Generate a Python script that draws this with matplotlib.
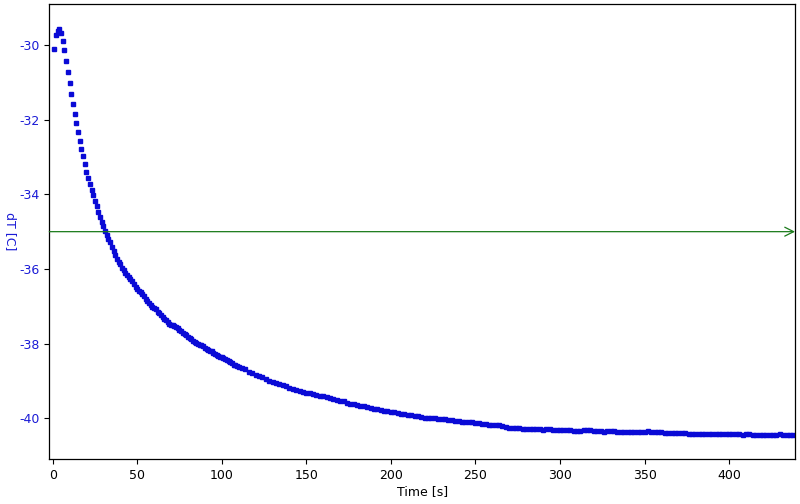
import numpy as np
import matplotlib
matplotlib.use("Agg")
import matplotlib.pyplot as plt

plt.rcParams['axes.unicode_minus'] = False
plt.rcParams['font.family'] = ['DejaVu Sans']

# sample times [s]
time_early = list(range(1, 111))          # 1 s sampling
time_late = list(range(112, 439, 2))      # 2 s sampling (dense tail)

dT_early = [
    -30.10, -29.74, -29.62, -29.57, -29.68, -29.90, -30.14, -30.43, -30.73, -31.01,
    -31.30, -31.58, -31.85, -32.10, -32.33, -32.57, -32.78, -32.98, -33.20, -33.40,
    -33.57, -33.72, -33.88, -34.02, -34.18, -34.31, -34.46, -34.60, -34.74, -34.86,
    -34.97, -35.09, -35.20, -35.29, -35.41, -35.53, -35.63, -35.73, -35.80, -35.87,
    -35.97, -36.04, -36.11, -36.17, -36.21, -36.27, -36.33, -36.41, -36.48, -36.54,
    -36.58, -36.62, -36.68, -36.73, -36.80, -36.86, -36.91, -36.97, -37.01, -37.04,
    -37.08, -37.14, -37.19, -37.23, -37.28, -37.33, -37.37, -37.43, -37.47, -37.49,
    -37.51, -37.54, -37.56, -37.59, -37.63, -37.67, -37.71, -37.75, -37.78, -37.82,
    -37.85, -37.88, -37.93, -37.96, -37.98, -38.00, -38.03, -38.05, -38.07, -38.11,
    -38.14, -38.18, -38.20, -38.21, -38.24, -38.28, -38.30, -38.33, -38.36, -38.37,
    -38.38, -38.41, -38.44, -38.47, -38.50, -38.53, -38.56, -38.58, -38.60, -38.62,
]

dT_late = [
    -38.65, -38.69, -38.75, -38.78, -38.83, -38.86, -38.90, -38.95, -38.99, -39.03,
    -39.05, -39.08, -39.11, -39.13, -39.18, -39.21, -39.23, -39.26, -39.29, -39.32,
    -39.33, -39.36, -39.38, -39.40, -39.41, -39.44, -39.47, -39.49, -39.51, -39.53,
    -39.55, -39.58, -39.61, -39.63, -39.65, -39.66, -39.68, -39.71, -39.72, -39.74,
    -39.76, -39.78, -39.80, -39.81, -39.82, -39.84, -39.86, -39.88, -39.89, -39.91,
    -39.92, -39.94, -39.95, -39.96, -39.98, -39.99, -39.99, -40.00, -40.01, -40.02,
    -40.03, -40.05, -40.06, -40.07, -40.08, -40.09, -40.10, -40.11, -40.11, -40.12,
    -40.14, -40.15, -40.16, -40.17, -40.18, -40.19, -40.19, -40.20, -40.23, -40.25,
    -40.26, -40.27, -40.27, -40.28, -40.29, -40.29, -40.30, -40.30, -40.30, -40.31,
    -40.30, -40.30, -40.31, -40.31, -40.31, -40.32, -40.32, -40.32, -40.33, -40.33,
    -40.33, -40.32, -40.31, -40.32, -40.33, -40.34, -40.35, -40.37, -40.35, -40.34,
    -40.35, -40.36, -40.37, -40.37, -40.38, -40.37, -40.37, -40.36, -40.37, -40.36,
    -40.35, -40.36, -40.37, -40.38, -40.38, -40.39, -40.39, -40.40, -40.39, -40.40,
    -40.40, -40.40, -40.41, -40.41, -40.41, -40.42, -40.42, -40.42, -40.42, -40.42,
    -40.42, -40.42, -40.42, -40.42, -40.43, -40.43, -40.43, -40.43, -40.44, -40.43,
    -40.43, -40.44, -40.45, -40.45, -40.46, -40.46, -40.45, -40.44, -40.44, -40.43,
    -40.44, -40.45, -40.44, -40.45,
]

threshold = -35.0
y_ticks = [-30, -32, -34, -36, -38, -40]
x_ticks = [0, 50, 100, 150, 200, 250, 300, 350, 400]

time = np.array(time_early + time_late, dtype=float)
dT = np.array(dT_early + dT_late)

fig = plt.figure(figsize=(8, 5.04), dpi=100)
ax = fig.add_axes([0.0616, 0.0887, 0.9322, 0.9033])

ax.plot(time, dT, linestyle='none', marker='s', markersize=2.3,
        markerfacecolor='#0a0ad6', markeredgecolor='#0a0ad6', clip_on=True)

xlim = (-2, 439)
ax.set_xlim(*xlim)
ax.set_ylim(-41.1, -28.9)

ax.annotate('', xy=(xlim[1], threshold), xytext=(xlim[0], threshold),
            xycoords='data', textcoords='data',
            arrowprops=dict(arrowstyle='->', color='#1a7a1a', lw=0.9,
                            shrinkA=0, shrinkB=0, mutation_scale=16),
            annotation_clip=False)

ax.set_xticks(x_ticks)
ax.set_xticklabels([str(v) for v in x_ticks])
ax.set_yticks(y_ticks)
ax.set_yticklabels([str(v) for v in y_ticks])
ax.tick_params(axis='both', labelsize=9, length=3.5, width=0.8)
ax.tick_params(axis='y', labelcolor='#1a1ad6')

ax.set_xlabel('Time [s]', fontsize=9, labelpad=2)
ax.set_ylabel('dT [C]', fontsize=9, color='#1a1ad6', rotation=270)
ax.yaxis.set_label_coords(-0.061, 0.5)

for s in ax.spines.values():
    s.set_linewidth(0.9)

fig.savefig('out.png', dpi=100)
